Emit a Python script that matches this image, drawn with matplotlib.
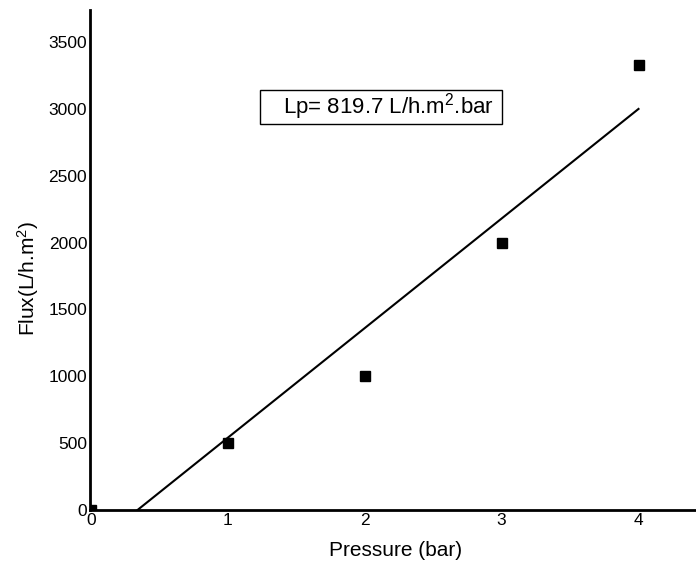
import matplotlib
matplotlib.use("Agg")
import matplotlib.pyplot as plt
from matplotlib.patches import Rectangle
import numpy as np

plt.rcParams['font.family'] = ['Liberation Sans', 'DejaVu Sans']
plt.rcParams['mathtext.fontset'] = 'custom'
plt.rcParams['mathtext.rm'] = 'Liberation Sans'
plt.rcParams['mathtext.it'] = 'Liberation Sans'

pressure = [0, 1, 2, 3, 4]
flux = [0, 500, 1000, 2000, 3330]
slope = 819.7
intercept = -278.8
fit_x = [0.34, 4.0]
xticks = [0, 1, 2, 3, 4]
yticks = [0, 500, 1000, 1500, 2000, 2500, 3000, 3500]

fig = plt.figure(figsize=(6.96, 5.63), dpi=100)
ax = fig.add_axes([90/696, 53/563, 606/696, 500/563])

ax.plot(pressure, flux, 's', color='black', markersize=7.2, clip_on=True, zorder=3)
fx = np.array(fit_x)
ax.plot(fx, slope*fx + intercept, color='black', linewidth=1.5)

ax.set_xlim(-0.007, 4.42)
ax.set_ylim(0, 3740)
ax.set_xticks(xticks)
ax.set_yticks(yticks)
ax.tick_params(length=0, labelsize=12.5, pad=2)
ax.spines['top'].set_visible(False)
ax.spines['right'].set_visible(False)
ax.spines['left'].set_linewidth(2)
ax.spines['bottom'].set_linewidth(2)

ax.set_xlabel('Pressure (bar)', fontsize=15)
ax.xaxis.set_label_coords(0.505, -0.062)
ax.set_ylabel('Flux(L/h.m$^2$)', fontsize=15)
ax.yaxis.set_label_coords(-0.081, 0.464)

ax.add_patch(Rectangle((0.281, 0.772), 0.399, 0.068, transform=ax.transAxes,
                       facecolor='white', edgecolor='black', linewidth=1, zorder=4))
ax.text(0.318, 0.806, 'Lp= 819.7 L/h.m$^2$.bar', transform=ax.transAxes,
        fontsize=16, ha='left', va='center', zorder=5)

fig.savefig('out.png', dpi=100)
